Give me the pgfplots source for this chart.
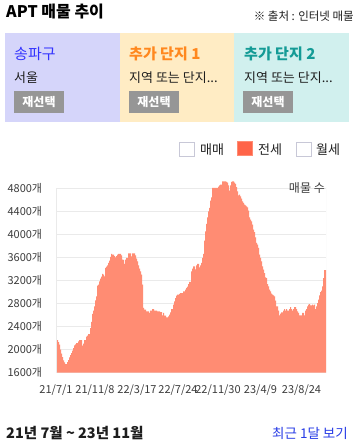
\documentclass[border=0pt]{standalone}
\usepackage{pgfplots}
\pgfplotsset{compat=1.18}
\usepackage{fontspec}
\setmainfont{Noto Sans CJK KR}
\definecolor{salmon}{RGB}{255,140,115}
\definecolor{gridc}{RGB}{234,234,234}
\definecolor{tickc}{RGB}{60,60,60}
\definecolor{boxa}{RGB}{213,213,250}
\definecolor{boxb}{RGB}{255,236,196}
\definecolor{boxc}{RGB}{209,240,238}
\definecolor{ca}{RGB}{51,51,255}
\definecolor{cb}{RGB}{255,136,30}
\definecolor{cc}{RGB}{20,155,150}
\definecolor{btn}{RGB}{150,150,150}
\definecolor{dark}{RGB}{30,30,30}
\definecolor{legb}{RGB}{200,200,215}
\definecolor{tomato}{RGB}{255,100,72}
\definecolor{linkc}{RGB}{40,60,230}
\newcommand{\fs}[1]{\fontsize{#1}{#1}\selectfont}
\begin{document}
\begin{tikzpicture}
\useasboundingbox (0pt,0pt) rectangle (355pt,-446pt);
\fill[white] (0pt,0pt) rectangle (355pt,-446pt);
% header
\node[anchor=base west, inner sep=0pt, text=black, font=\fs{16}\bfseries] at (6pt,-17.3pt) {APT 매물 추이};
\node[anchor=base east, inner sep=0pt, text=dark, font=\fs{11.5}] at (354pt,-21pt) {※ 출처 : 인터넷 매물};
% boxes
\fill[boxa] (5pt,-33.3pt) rectangle (120pt,-122.3pt);
\fill[boxb] (120pt,-33.3pt) rectangle (234pt,-122.3pt);
\fill[boxc] (234pt,-33.3pt) rectangle (349pt,-122.3pt);
\node[anchor=base west, inner sep=0pt, text=ca, font=\fs{15}] at (14pt,-60pt) {송파구};
\node[anchor=base west, inner sep=0pt, text=cb, font=\fs{15}\bfseries] at (129pt,-60pt) {추가 단지 1};
\node[anchor=base west, inner sep=0pt, text=cc, font=\fs{15}\bfseries] at (244pt,-60pt) {추가 단지 2};
\node[anchor=base west, inner sep=0pt, text=dark, font=\fs{13}] at (14pt,-82.5pt) {서울};
\node[anchor=base west, inner sep=0pt, text=dark, font=\fs{13}] at (129pt,-82.5pt) {지역 또는 단지...};
\node[anchor=base west, inner sep=0pt, text=dark, font=\fs{13}] at (244pt,-82.5pt) {지역 또는 단지...};
\fill[btn] (14pt,-90.7pt) rectangle (64pt,-112.7pt);
\fill[btn] (129pt,-90.7pt) rectangle (179pt,-112.7pt);
\fill[btn] (243.3pt,-90.7pt) rectangle (292.7pt,-112.7pt);
\node[inner sep=0pt, text=white, font=\fs{12}\bfseries] at (39pt,-101.7pt) {재선택};
\node[inner sep=0pt, text=white, font=\fs{12}\bfseries] at (154pt,-101.7pt) {재선택};
\node[inner sep=0pt, text=white, font=\fs{12}\bfseries] at (268pt,-101.7pt) {재선택};
% legend
\draw[legb, line width=0.8pt, fill=white] (179.5pt,-142pt) rectangle (194pt,-156pt);
\draw[salmon, line width=1pt, fill=tomato] (237.5pt,-142pt) rectangle (252pt,-156pt);
\draw[legb, line width=0.8pt, fill=white] (296.5pt,-142pt) rectangle (311pt,-156pt);
\node[anchor=base west, inner sep=0pt, text=dark, font=\fs{13}] at (200pt,-154.5pt) {매매};
\node[anchor=base west, inner sep=0pt, text=dark, font=\fs{13}] at (258pt,-154.5pt) {전세};
\node[anchor=base west, inner sep=0pt, text=dark, font=\fs{13}] at (316pt,-154.5pt) {월세};
% chart
\begin{axis}[
  at={(56pt,-372.7pt)}, anchor=south west,
  scale only axis, width=270pt, height=193.06pt,
  xmin=0, xmax=270, ymin=1600, ymax=4950,
  axis line style={draw=none},
  tick style={draw=none},
  ytick={1600,2000,2400,2800,3200,3600,4000,4400,4800},
  yticklabels={1600개,2000개,2400개,2800개,3200개,3600개,4000개,4400개,4800개},
  xtick={0,39,81,122,162,204.5,245.5},
  xticklabels={21/7/1,21/11/8,22/3/17,22/7/24,22/11/30,23/4/9,23/8/24},
  ymajorgrids, major grid style={gridc, line width=0.9pt},
  yticklabel style={font=\fs{11}, text=tickc, anchor=east, inner sep=0pt, xshift=-13.7pt},
  xticklabel style={font=\fs{11}, text=tickc, anchor=center, inner sep=0pt, yshift=-17.8pt},
]
\addplot[const plot, fill=salmon, draw=none] coordinates {
(0,2167) (1,2167) (2,2132) (3,2086) (4,1999) (5,1930) (6,1872) (7,1814) (8,1779) (9,1750)
(10,1750) (11,1785) (12,1820) (13,1866) (14,1907) (15,1941) (16,1982) (17,2028) (18,2075) (19,2092)
(20,2115) (21,2115) (22,2144) (23,2167) (24,2167) (25,2167) (26,2069) (27,2103) (28,2167) (29,2167)
(30,2225) (31,2242) (32,2271) (33,2271) (34,2375) (35,2480) (36,2619) (37,2676) (38,2752) (39,2856)
(40,2925) (41,3110) (42,3128) (43,3186) (44,3232) (45,3267) (46,3313) (47,3301) (48,3273) (49,3417)
(50,3440) (51,3463) (52,3504) (53,3544) (54,3608) (55,3660) (56,3649) (57,3649) (58,3625) (59,3602)
(60,3625) (61,3649) (62,3660) (63,3660) (64,3660) (65,3637) (66,3562) (67,3556) (68,3487) (69,3562)
(70,3591) (71,3591) (72,3672) (73,3672) (74,3672) (75,3620) (76,3672) (77,3672) (78,3672) (79,3637)
(80,3579) (81,3533) (82,3463) (83,3406) (84,3359) (85,3301) (86,3128) (87,2723) (88,2694) (89,2694)
(90,2665) (91,2665) (92,2665) (93,2636) (94,2676) (95,2676) (96,2705) (97,2705) (98,2676) (99,2676)
(100,2676) (101,2665) (102,2665) (103,2665) (104,2653) (105,2653) (106,2595) (107,2636) (108,2590) (109,2590)
(110,2561) (111,2561) (112,2578) (113,2607) (114,2647) (115,2705) (116,2705) (117,2781) (118,2838) (119,2896)
(120,2937) (121,2954) (122,2954) (123,2966) (124,2983) (125,2983) (126,2983) (127,3012) (128,3012) (129,3041)
(130,3070) (131,3093) (132,3139) (133,3174) (134,3174) (135,3359) (136,3406) (137,3446) (138,3446) (139,3394)
(140,3463) (141,3487) (142,3487) (143,3429) (144,3463) (145,3504) (146,3591) (147,3660) (148,3892) (149,4054)
(150,4181) (151,4297) (152,4401) (153,4459) (154,4586) (155,4644) (156,4806) (157,4806) (158,4806) (159,4806)
(160,4806) (161,4806) (162,4829) (163,4852) (164,4864) (165,4864) (166,4922) (167,4922) (168,4922) (169,4922)
(170,4910) (171,4899) (172,4852) (173,4760) (174,4852) (175,4910) (176,4922) (177,4922) (178,4899) (179,4876)
(180,4818) (181,4748) (182,4679) (183,4691) (184,4661) (185,4621) (186,4575) (187,4546) (188,4517) (189,4505)
(190,4488) (191,4470) (192,4412) (193,4297) (194,4256) (195,4227) (196,4169) (197,4083) (198,4040) (199,3950)
(200,3851) (201,3822) (202,3764) (203,3649) (204,3591) (205,3533) (206,3446) (207,3388) (208,3330) (209,3255)
(210,3243) (211,3139) (212,3099) (213,3041) (214,3012) (215,2972) (216,2954) (217,2943) (218,2925) (219,2850)
(220,2752) (221,2752) (222,2676) (223,2595) (224,2624) (225,2647) (226,2647) (227,2676) (228,2705) (229,2676)
(230,2705) (231,2676) (232,2676) (233,2705) (234,2740) (235,2705) (236,2676) (237,2705) (238,2740) (239,2740)
(240,2705) (241,2665) (242,2636) (243,2595) (244,2595) (245,2595) (246,2636) (247,2636) (248,2595) (249,2676)
(250,2705) (251,2752) (252,2781) (253,2792) (254,2769) (255,2769) (256,2781) (257,2769) (258,2781) (259,2705)
(260,2752) (261,2809) (262,2867) (263,2943) (264,3000) (265,3024) (266,3099) (267,3243) (268,3382) (269,3382)
(270,3382)
} \closedcycle;
\draw[gridc, line width=0.9pt] (axis cs:0,1600) -- (axis cs:0,4800);
\draw[gridc, line width=0.9pt] (axis cs:270,1600) -- (axis cs:270,4820);
\end{axis}
\node[anchor=base east, inner sep=0pt, text=tickc, font=\fs{12}] at (325pt,-192.5pt) {매물 수};
% footer
\node[anchor=base west, inner sep=0pt, text=dark, font=\fs{14.5}\bfseries] at (6pt,-438.5pt) {21년 7월 \textasciitilde{} 23년 11월};
\node[anchor=base east, inner sep=0pt, text=linkc, font=\fs{13.5}] at (348pt,-438.5pt) {최근 1달 보기};
\end{tikzpicture}
\end{document}
